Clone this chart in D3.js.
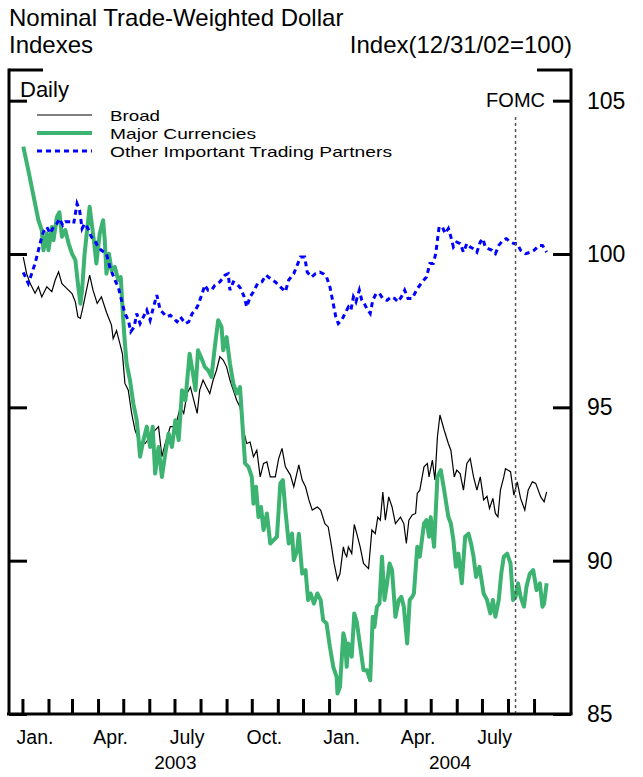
<!DOCTYPE html>
<html><head><meta charset="utf-8">
<script src="https://cdn.jsdelivr.net/npm/d3@7"></script>
<style>body{margin:0;background:#fff} text{font-family:"Liberation Sans",Arial,sans-serif;fill:#000}</style>
</head><body><svg id="c" width="643" height="777"></svg>
<script>
const broad = [["2003-01-02",99.9],["2003-01-06",99.36],["2003-01-10",99.05],["2003-01-16",98.72],["2003-01-20",98.93],["2003-01-24",98.6],["2003-01-30",98.93],["2003-02-05",98.77],["2003-02-09",99.15],["2003-02-13",99.42],["2003-02-17",99.03],["2003-02-23",98.87],["2003-03-01",98.71],["2003-03-05",98.44],["2003-03-08",97.95],["2003-03-11",97.9],["2003-03-14",98.27],["2003-03-19",98.93],["2003-03-22",99.31],["2003-03-26",98.82],["2003-03-31",98.39],["2003-04-05",98.6],["2003-04-11",98.1],["2003-04-17",97.68],["2003-04-19",97.24],["2003-04-23",97.5],["2003-04-27",97.08],["2003-04-30",96.75],["2003-05-03",95.78],["2003-05-07",95.56],["2003-05-11",94.8],["2003-05-15",94.26],["2003-05-21",93.82],["2003-05-27",93.82],["2003-06-02",94.04],["2003-06-08",94.26],["2003-06-12",94.37],["2003-06-16",93.39],["2003-06-20",93.82],["2003-06-26",94.37],["2003-07-02",94.37],["2003-07-08",95.01],["2003-07-12",94.8],["2003-07-16",95.45],["2003-07-20",95.66],["2003-07-24",95.23],["2003-07-28",94.8],["2003-07-31",95.56],["2003-08-04",95.89],["2003-08-08",95.66],["2003-08-12",95.45],["2003-08-16",95.89],["2003-08-20",96.21],["2003-08-24",96.65],["2003-08-28",96.54],["2003-09-01",96.32],["2003-09-05",95.89],["2003-09-09",95.56],["2003-09-13",95.23],["2003-09-17",95.01],["2003-09-21",94.26],["2003-09-25",93.82],["2003-09-29",93.87],["2003-10-03",93.39],["2003-10-07",93.6],["2003-10-11",92.73],["2003-10-15",93.17],["2003-10-19",93.22],["2003-10-23",92.73],["2003-10-29",92.73],["2003-11-02",93.33],["2003-11-06",93.66],["2003-11-10",93.06],["2003-11-16",92.79],["2003-11-20",92.41],["2003-11-26",93.12],["2003-11-30",92.63],["2003-12-04",92.41],["2003-12-08",91.98],["2003-12-12",91.65],["2003-12-18",91.75],["2003-12-22",91.65],["2003-12-27",91.21],["2003-12-31",91.1],["2004-01-04",90.45],["2004-01-07",89.91],["2004-01-11",89.37],["2004-01-14",89.58],["2004-01-18",90.45],["2004-01-20",90.23],["2004-01-22",90.13],["2004-01-24",90.45],["2004-01-28",90.23],["2004-01-31",91.18],["2004-02-03",90.88],["2004-02-07",90.45],["2004-02-11",89.91],["2004-02-17",89.74],["2004-02-21",91.0],["2004-02-25",90.88],["2004-02-28",91.42],["2004-03-02",91.32],["2004-03-05",92.24],["2004-03-08",91.32],["2004-03-12",92.08],["2004-03-16",91.75],["2004-03-20",91.21],["2004-03-26",91.42],["2004-03-30",91.21],["2004-04-02",90.56],["2004-04-05",91.32],["2004-04-09",91.49],["2004-04-13",91.54],["2004-04-15",92.19],["2004-04-18",92.3],["2004-04-23",93.06],["2004-04-27",93.17],["2004-04-29",92.73],["2004-05-03",93.28],["2004-05-06",92.63],["2004-05-09",94.04],["2004-05-12",94.75],["2004-05-17",94.26],["2004-05-22",93.82],["2004-05-25",93.6],["2004-05-29",92.73],["2004-06-01",92.95],["2004-06-05",92.84],["2004-06-09",92.3],["2004-06-13",93.17],["2004-06-17",93.33],["2004-06-21",92.73],["2004-06-25",92.3],["2004-06-29",92.73],["2004-07-03",91.98],["2004-07-07",92.1],["2004-07-10",91.7],["2004-07-14",92.03],["2004-07-17",91.54],["2004-07-20",91.43],["2004-07-23",92.3],["2004-07-27",92.73],["2004-07-29",93.0],["2004-08-04",92.9],["2004-08-08",92.14],["2004-08-12",92.57],["2004-08-16",92.03],["2004-08-21",91.65],["2004-08-25",92.3],["2004-08-30",92.57],["2004-09-03",92.52],["2004-09-09",92.08],["2004-09-13",91.92],["2004-09-16",92.24]];

const major = [["2003-01-02",103.5],["2003-01-08",102.73],["2003-01-12",102.19],["2003-01-16",101.64],["2003-01-20",101.1],["2003-01-24",100.78],["2003-01-26",100.12],["2003-01-30",100.67],["2003-02-01",100.12],["2003-02-05",100.88],["2003-02-07",100.45],["2003-02-11",101.21],["2003-02-14",101.36],["2003-02-17",100.56],["2003-02-21",100.78],["2003-02-25",100.34],["2003-03-01",100.01],["2003-03-05",99.8],["2003-03-08",99.04],["2003-03-11",98.38],["2003-03-13",98.82],["2003-03-16",100.01],["2003-03-19",100.78],["2003-03-22",101.54],["2003-03-24",101.1],["2003-03-27",100.45],["2003-03-30",99.69],["2003-04-03",100.67],["2003-04-07",101.1],["2003-04-09",100.45],["2003-04-11",99.36],["2003-04-14",100.01],["2003-04-17",99.47],["2003-04-21",99.58],["2003-04-25",99.15],["2003-04-28",99.25],["2003-05-01",97.84],["2003-05-03",97.08],["2003-05-05",96.43],["2003-05-09",95.89],["2003-05-13",95.12],["2003-05-17",94.58],["2003-05-19",94.04],["2003-05-21",93.39],["2003-05-25",93.93],["2003-05-29",94.37],["2003-06-02",93.71],["2003-06-05",94.37],["2003-06-08",92.84],["2003-06-12",93.71],["2003-06-16",92.73],["2003-06-20",93.49],["2003-06-24",94.15],["2003-06-28",93.71],["2003-07-02",94.58],["2003-07-06",93.93],["2003-07-10",95.56],["2003-07-14",95.23],["2003-07-19",96.75],["2003-07-23",96.1],["2003-07-26",95.56],["2003-07-29",96.86],["2003-08-03",96.54],["2003-08-06",96.32],["2003-08-10",96.21],["2003-08-14",95.99],["2003-08-18",96.97],["2003-08-22",97.84],["2003-08-26",97.62],["2003-08-28",96.86],["2003-09-01",97.29],["2003-09-05",96.43],["2003-09-09",95.78],["2003-09-13",95.45],["2003-09-17",95.66],["2003-09-21",94.0],["2003-09-23",93.17],["2003-09-27",93.06],["2003-10-01",92.73],["2003-10-03",91.86],["2003-10-06",92.41],["2003-10-09",91.42],["2003-10-12",91.75],["2003-10-15",91.0],["2003-10-19",91.54],["2003-10-23",90.56],["2003-10-27",90.67],["2003-10-31",90.78],["2003-11-04",92.52],["2003-11-07",92.63],["2003-11-10",91.65],["2003-11-14",90.56],["2003-11-18",90.88],["2003-11-20",90.02],["2003-11-24",90.34],["2003-11-26",90.88],["2003-11-30",89.58],["2003-12-04",89.69],["2003-12-07",88.72],["2003-12-10",88.93],["2003-12-14",88.6],["2003-12-18",88.93],["2003-12-22",88.72],["2003-12-25",88.06],["2003-12-29",87.95],["2004-01-02",87.19],["2004-01-06",86.54],["2004-01-10",86.21],["2004-01-11",85.67],["2004-01-14",85.89],["2004-01-18",87.63],["2004-01-20",87.41],["2004-01-22",86.54],["2004-01-24",87.3],["2004-01-28",86.87],["2004-01-31",88.28],["2004-02-03",88.0],["2004-02-06",87.41],["2004-02-11",86.43],["2004-02-15",86.43],["2004-02-19",86.1],["2004-02-22",88.17],["2004-02-24",87.84],["2004-02-27",88.5],["2004-03-01",88.6],["2004-03-04",90.13],["2004-03-07",88.72],["2004-03-10",89.26],["2004-03-13",89.91],["2004-03-16",89.69],["2004-03-20",88.17],["2004-03-24",88.72],["2004-03-27",88.82],["2004-03-30",88.5],["2004-04-03",87.3],["2004-04-06",88.72],["2004-04-09",88.82],["2004-04-11",88.93],["2004-04-15",90.45],["2004-04-18",90.13],["2004-04-23",91.21],["2004-04-26",91.32],["2004-04-29",90.78],["2004-05-01",91.42],["2004-05-05",90.45],["2004-05-09",92.73],["2004-05-13",92.95],["2004-05-17",92.3],["2004-05-22",91.43],["2004-05-25",91.21],["2004-05-28",90.67],["2004-05-31",89.8],["2004-06-03",90.23],["2004-06-07",89.26],["2004-06-11",90.78],["2004-06-15",90.88],["2004-06-18",90.56],["2004-06-21",90.13],["2004-06-24",89.47],["2004-06-28",89.8],["2004-07-03",88.93],["2004-07-07",88.72],["2004-07-11",88.28],["2004-07-14",88.72],["2004-07-17",88.17],["2004-07-21",88.72],["2004-07-24",89.58],["2004-07-27",90.13],["2004-07-31",90.23],["2004-08-04",89.91],["2004-08-07",88.72],["2004-08-10",88.82],["2004-08-13",89.26],["2004-08-16",88.82],["2004-08-20",88.5],["2004-08-23",89.15],["2004-08-27",89.58],["2004-08-31",89.69],["2004-09-04",89.04],["2004-09-08",89.26],["2004-09-11",88.5],["2004-09-13",88.6],["2004-09-16",89.26]];

const otherPartners = [["2003-01-02",99.4],["2003-01-08",99.04],["2003-01-12",99.36],["2003-01-16",99.69],["2003-01-20",100.12],["2003-01-23",100.45],["2003-01-26",100.72],["2003-01-30",100.88],["2003-02-03",100.67],["2003-02-07",100.88],["2003-02-11",100.99],["2003-02-14",101.15],["2003-02-18",100.94],["2003-02-21",101.05],["2003-02-27",101.05],["2003-03-03",100.99],["2003-03-07",101.64],["2003-03-10",101.43],["2003-03-13",100.83],["2003-03-16",100.99],["2003-03-20",100.83],["2003-03-24",100.56],["2003-03-28",100.45],["2003-04-01",100.23],["2003-04-05",100.12],["2003-04-11",100.01],["2003-04-15",99.58],["2003-04-21",99.15],["2003-04-25",98.93],["2003-04-29",98.49],["2003-05-01",98.27],["2003-05-03",98.06],["2003-05-05",97.95],["2003-05-07",97.84],["2003-05-10",97.47],["2003-05-14",97.62],["2003-05-17",98.06],["2003-05-21",97.73],["2003-05-25",97.95],["2003-05-29",98.17],["2003-06-02",97.84],["2003-06-06",98.27],["2003-06-10",98.66],["2003-06-14",98.17],["2003-06-18",98.06],["2003-06-22",97.95],["2003-06-26",98.0],["2003-06-30",97.9],["2003-07-04",97.79],["2003-07-08",97.95],["2003-07-14",97.73],["2003-07-18",97.79],["2003-07-22",98.06],["2003-07-26",98.17],["2003-07-29",98.33],["2003-08-03",98.71],["2003-08-06",98.98],["2003-08-10",98.82],["2003-08-14",98.82],["2003-08-18",98.98],["2003-08-24",99.09],["2003-08-30",99.31],["2003-09-03",99.36],["2003-09-05",98.82],["2003-09-09",99.09],["2003-09-13",99.04],["2003-09-18",98.87],["2003-09-22",98.6],["2003-09-25",98.27],["2003-09-29",98.6],["2003-10-03",98.77],["2003-10-08",99.04],["2003-10-13",99.09],["2003-10-18",99.31],["2003-10-23",99.2],["2003-10-29",99.09],["2003-11-04",98.93],["2003-11-10",98.77],["2003-11-14",99.15],["2003-11-20",99.36],["2003-11-24",99.63],["2003-11-28",99.9],["2003-12-03",99.9],["2003-12-06",99.41],["2003-12-11",99.25],["2003-12-16",99.36],["2003-12-21",99.41],["2003-12-25",99.36],["2003-12-29",99.25],["2004-01-02",98.93],["2004-01-06",98.38],["2004-01-09",97.95],["2004-01-12",97.73],["2004-01-16",97.84],["2004-01-20",98.06],["2004-01-24",98.27],["2004-01-27",98.17],["2004-01-30",98.6],["2004-02-02",98.44],["2004-02-06",98.82],["2004-02-09",98.49],["2004-02-12",98.38],["2004-02-15",98.22],["2004-02-19",98.06],["2004-02-22",98.49],["2004-02-26",98.71],["2004-03-01",98.71],["2004-03-05",98.55],["2004-03-10",98.49],["2004-03-15",98.6],["2004-03-19",98.55],["2004-03-23",98.44],["2004-03-27",98.6],["2004-03-31",98.82],["2004-04-04",98.55],["2004-04-09",98.55],["2004-04-15",98.87],["2004-04-21",99.09],["2004-04-26",99.25],["2004-04-30",99.69],["2004-05-04",99.69],["2004-05-07",100.01],["2004-05-09",100.45],["2004-05-11",100.88],["2004-05-15",100.88],["2004-05-18",100.67],["2004-05-22",100.83],["2004-05-25",100.56],["2004-05-28",100.23],["2004-06-01",100.39],["2004-06-05",100.34],["2004-06-09",100.06],["2004-06-13",100.34],["2004-06-17",100.23],["2004-06-21",100.17],["2004-06-25",100.06],["2004-06-29",100.39],["2004-07-02",100.5],["2004-07-05",100.23],["2004-07-09",100.17],["2004-07-13",100.12],["2004-07-17",100.01],["2004-07-21",100.28],["2004-07-26",100.45],["2004-07-30",100.5],["2004-08-04",100.39],["2004-08-08",100.34],["2004-08-12",100.34],["2004-08-16",100.12],["2004-08-22",100.01],["2004-08-28",100.06],["2004-09-01",100.12],["2004-09-07",100.28],["2004-09-11",100.28],["2004-09-16",100.06]];

const seriesNames = ["Broad","Major Currencies","Other Important Trading Partners"];
const seriesColors = ["#000000","#3cb371","#0000ff"];
const yTicks = [85,90,95,100,105];
const monthLabels = ["Jan.","Apr.","July","Oct.","Jan.","Apr.","July"];
const monthLabelDates = ["2003-01-16","2003-04-16","2003-07-16","2003-10-16","2004-01-16","2004-04-16","2004-07-16"];
const yearLabels = ["2003","2004"];
const yearLabelDates = ["2003-07-02","2004-05-24"];
const fomcDate = "2004-08-10";
const xDomain = ["2002-12-16","2004-10-15"];

const parse = d3.timeParse("%Y-%m-%d");
const svg = d3.select("#c");
const L = 9, R = 571, T = 70, B = 714;
const x = d3.scaleTime().domain(xDomain.map(parse)).range([L, R]);
const y = d3.scaleLinear().domain([85, 106]).range([B, T]);

// Titles
svg.append("text").attr("x", 9).attr("y", 26).attr("font-size", 24).text("Nominal Trade-Weighted Dollar");
svg.append("text").attr("x", 9).attr("y", 53).attr("font-size", 24).text("Indexes");
svg.append("text").attr("x", 572).attr("y", 53).attr("font-size", 24).attr("text-anchor", "end").text("Index(12/31/02=100)");

// Lines
const line = d3.line().x(d => x(parse(d[0]))).y(d => y(d[1]));
svg.append("path").datum(broad).attr("d", line).attr("fill", "none").attr("stroke", seriesColors[0]).attr("stroke-width", 1.2);
svg.append("path").datum(major).attr("d", line).attr("fill", "none").attr("stroke", seriesColors[1]).attr("stroke-width", 4).attr("stroke-linejoin", "round");
svg.append("path").datum(otherPartners).attr("d", line).attr("fill", "none").attr("stroke", seriesColors[2]).attr("stroke-width", 3).attr("stroke-dasharray", "5,4");

// FOMC
const fx = x(parse(fomcDate));
svg.append("line").attr("x1", fx).attr("x2", fx).attr("y1", 117).attr("y2", B).attr("stroke", "#555").attr("stroke-width", 1.5).attr("stroke-dasharray", "3,3");
svg.append("text").attr("x", fx).attr("y", 107).attr("font-size", 20).attr("text-anchor", "middle").text("FOMC");

// Axes
const ax = svg.append("g").attr("stroke", "#000").attr("stroke-width", 3).attr("fill", "none");
ax.append("line").attr("x1", L).attr("x2", L).attr("y1", T - 1.5).attr("y2", B);
ax.append("line").attr("x1", R).attr("x2", R).attr("y1", T - 1.5).attr("y2", B);
ax.append("line").attr("x1", L - 2).attr("x2", R + 1.5).attr("y1", B).attr("y2", B);
ax.append("line").attr("x1", L).attr("x2", L + 34).attr("y1", T).attr("y2", T);
ax.append("line").attr("x1", R - 34).attr("x2", R).attr("y1", T).attr("y2", T);

const rightAxis = d3.axisRight(y).tickValues(yTicks).tickSize(-18).tickPadding(16).tickFormat(d3.format("d"));
const gR = svg.append("g").attr("transform", `translate(${R},0)`).call(rightAxis);
gR.select(".domain").remove();
gR.selectAll(".tick line").attr("stroke", "#000").attr("stroke-width", 3);
gR.selectAll(".tick text").attr("font-size", 23).attr("font-family", "Liberation Sans, Arial, sans-serif").attr("fill", "#000");

const leftAxis = d3.axisLeft(y).tickValues(yTicks).tickSize(-18).tickFormat("");
const gL = svg.append("g").attr("transform", `translate(${L},0)`).call(leftAxis);
gL.select(".domain").remove();
gL.selectAll(".tick line").attr("stroke", "#000").attr("stroke-width", 3);

const monthTicks = d3.timeMonth.range(parse("2003-01-01"), parse("2004-09-02"));
const bottomAxis = d3.axisBottom(x).tickValues(monthTicks).tickSize(-15).tickFormat("");
const gB = svg.append("g").attr("transform", `translate(0,${B})`).call(bottomAxis);
gB.select(".domain").remove();
gB.selectAll(".tick line").attr("stroke", "#000").attr("stroke-width", 3);

svg.selectAll(".mlab").data(monthLabels).enter().append("text").attr("class", "mlab")
  .attr("x", (d, i) => x(parse(monthLabelDates[i]))).attr("y", 744).attr("font-size", 19.5)
  .attr("text-anchor", "middle").text(d => d);
svg.selectAll(".ylab").data(yearLabels).enter().append("text").attr("class", "ylab")
  .attr("x", (d, i) => x(parse(yearLabelDates[i]))).attr("y", 769).attr("font-size", 19)
  .attr("text-anchor", "middle").text(d => d);

// Daily + legend
svg.append("text").attr("x", 20).attr("y", 97).attr("font-size", 22).text("Daily");
const lg = svg.append("g");
const legY = [115, 133, 151];
seriesNames.forEach((n, i) => {
  const l = lg.append("line").attr("x1", 37).attr("x2", 92).attr("y1", legY[i]).attr("y2", legY[i])
    .attr("stroke", seriesColors[i]).attr("stroke-width", [1.2, 4, 3][i]);
  if (i === 2) l.attr("stroke-dasharray", "5,4");
  lg.append("text").attr("x", 110).attr("y", legY[i] + 6).attr("font-size", 15)
    .attr("textLength", [50, 146, 282][i]).attr("lengthAdjust", "spacingAndGlyphs").text(n);
});
</script></body></html>
